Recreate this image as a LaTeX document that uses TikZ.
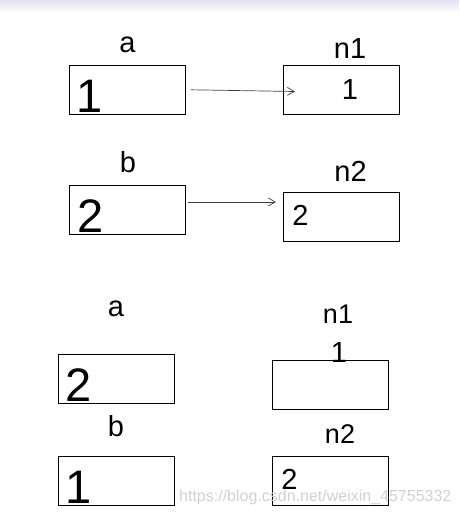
\documentclass[tikz,border=0pt]{standalone}
\usepackage{fontspec}
\setmainfont{Liberation Sans}
\usetikzlibrary{arrows.meta}
\definecolor{barlav}{RGB}{226,226,242}

\begin{document}
\begin{tikzpicture}[x=1pt,y=-1pt,
    cell/.style={draw, line width=1pt, minimum width=116pt, minimum height=49pt, inner sep=0pt},
    varname/.style={inner sep=0pt, font=\fontsize{29}{29}\selectfont},
    bigval/.style={inner sep=0pt, font=\fontsize{47}{47}\selectfont},
    smallval/.style={inner sep=0pt, font=\fontsize{29}{29}\selectfont},
    ptr/.style={-{Straight Barb[length=7pt,width=8pt]}, line width=0.7pt, black!75},
    wmark/.style={inner sep=0pt, font=\fontsize{16}{16}\selectfont, black!18}]
  \useasboundingbox (0,0) rectangle (459,516);
  % faint bar along the top
  \shade[top color=barlav, bottom color=white] (0,0) rectangle (459,12);

  % before: a -> n1, b -> n2
  \node[cell] (a1) at (127.3,89.8) {};
  \node[cell] (n1) at (341.8,89.8) {};
  \node[cell] (b1) at (127.3,209.7) {};
  \node[cell] (n2) at (341.8,216.7) {};
  \node[varname] (la1) at (127.5,45) {a};
  \node[varname] (ln1) at (350,48.5) {n1};
  \node[varname] (lb1) at (128,162) {b};
  \node[varname] (ln2) at (350.5,171) {n2};
  \node[bigval] (va1) at (90,96) {1};
  \node[smallval] (vn1) at (350,89.5) {1};
  \node[bigval] (vb1) at (90.5,216.5) {2};
  \node[smallval] (vn2) at (300.5,215.5) {2};
  % pointers
  \coordinate (p1) at (295,91.5);
  \coordinate (p2) at (276,202);
  \draw[ptr] ([xshift=5pt]a1.east) -- (p1);
  \draw[ptr] ([xshift=2pt,yshift=7.7pt]b1.east) -- (p2);

  % after the swap
  \node[cell] (a2) at (116.3,378.8) {};
  \node[cell] (n3) at (330.3,384.8) {};
  \node[cell] (b2) at (116.3,481) {};
  \node[cell] (n4) at (330.3,481) {};
  \node[varname] (la2) at (116,308.5) {a};
  \node[varname, font=\fontsize{27}{27}\selectfont] (ln3) at (338,314) {n1};
  \node[varname] (lb2) at (116,426.5) {b};
  \node[varname, font=\fontsize{27}{27}\selectfont] (ln4) at (340,434.5) {n2};
  \node[bigval] (va2) at (79,385.5) {2};
  \node[smallval] (vn3) at (339,353) {1};
  \node[bigval] (vb2) at (78.5,487) {1};
  \node[smallval] (vn4) at (289.5,479) {2};

  % watermark
  \node[wmark, anchor=west] (wm) at (179,497.5) {https://blog.csdn.net/weixin\_45755332};
\end{tikzpicture}
\end{document}
